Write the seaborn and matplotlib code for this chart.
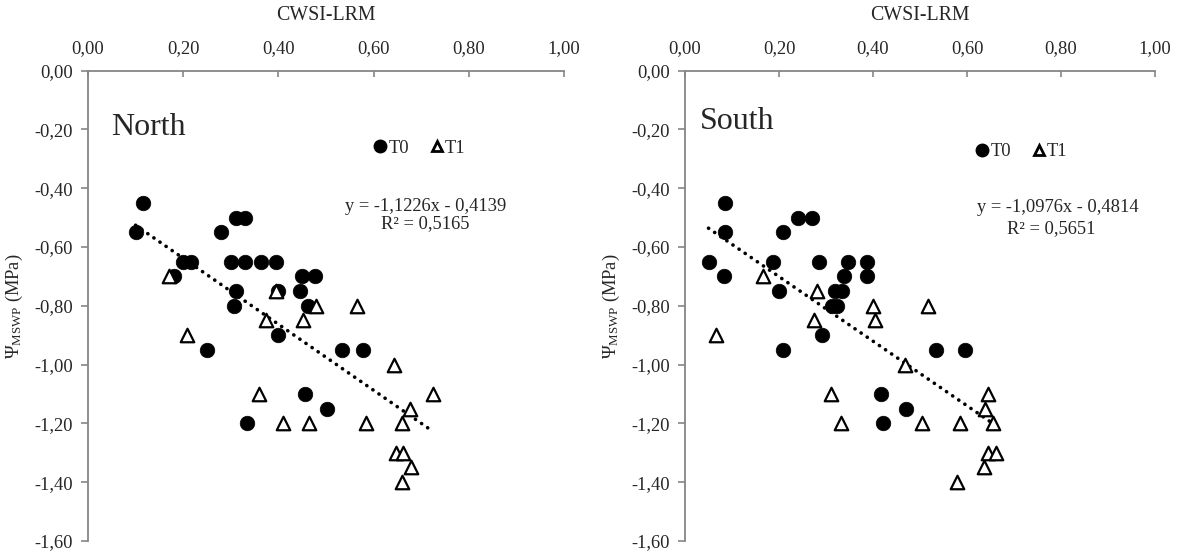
import numpy as np
import pandas as pd
import matplotlib
matplotlib.use("Agg")
import matplotlib.pyplot as plt
from matplotlib.ticker import FuncFormatter
from matplotlib.lines import Line2D
import seaborn as sns

# ---------------- data ----------------
north_t0_x = [0.100, 0.115, 0.180, 0.200, 0.216, 0.280, 0.300, 0.310, 0.330, 0.330,
              0.310, 0.307, 0.363, 0.396, 0.400, 0.400, 0.445, 0.450, 0.476, 0.462,
              0.250, 0.335, 0.455, 0.502, 0.534, 0.578]
north_t0_y = [-0.55, -0.45, -0.70, -0.65, -0.65, -0.55, -0.65, -0.50, -0.50, -0.65,
              -0.75, -0.80, -0.65, -0.65, -0.75, -0.90, -0.75, -0.70, -0.70, -0.80,
              -0.95, -1.20, -1.10, -1.15, -0.95, -0.95]
north_t1_x = [0.170, 0.208, 0.359, 0.410, 0.465, 0.373, 0.395, 0.452, 0.480, 0.565,
              0.642, 0.725, 0.676, 0.584, 0.660, 0.648, 0.662, 0.679, 0.660]
north_t1_y = [-0.70, -0.90, -1.10, -1.20, -1.20, -0.85, -0.75, -0.85, -0.80, -0.80,
              -1.00, -1.10, -1.15, -1.20, -1.20, -1.30, -1.30, -1.35, -1.40]

south_t0_x = [0.050, 0.085, 0.085, 0.084, 0.188, 0.199, 0.208, 0.208, 0.241, 0.271,
              0.285, 0.292, 0.312, 0.323, 0.319, 0.335, 0.338, 0.347, 0.388, 0.388,
              0.417, 0.422, 0.470, 0.533, 0.596]
south_t0_y = [-0.65, -0.45, -0.55, -0.70, -0.65, -0.75, -0.55, -0.95, -0.50, -0.50,
              -0.65, -0.90, -0.80, -0.80, -0.75, -0.75, -0.70, -0.65, -0.65, -0.70,
              -1.10, -1.20, -1.15, -0.95, -0.95]
south_t1_x = [0.065, 0.166, 0.274, 0.281, 0.310, 0.331, 0.401, 0.404, 0.468, 0.505,
              0.516, 0.585, 0.579, 0.644, 0.638, 0.656, 0.645, 0.662, 0.637]
south_t1_y = [-0.90, -0.70, -0.85, -0.75, -1.10, -1.20, -0.80, -0.85, -1.00, -1.20,
              -0.80, -1.20, -1.40, -1.10, -1.15, -1.20, -1.30, -1.30, -1.35]

north_slope, north_intercept, north_r2 = -1.1226, -0.4139, 0.5165
south_slope, south_intercept, south_r2 = -1.0976, -0.4814, 0.5651

x_ticks = [0.0, 0.2, 0.4, 0.6, 0.8, 1.0]
y_ticks = [0.0, -0.2, -0.4, -0.6, -0.8, -1.0, -1.2, -1.4, -1.6]

# ---------------- style ----------------
sns.set_style("white")
plt.rcParams['font.family'] = ['Liberation Serif', 'DejaVu Serif']
plt.rcParams['mathtext.fontset'] = 'custom'
plt.rcParams['mathtext.rm'] = 'Liberation Serif'
plt.rcParams['mathtext.it'] = 'Liberation Serif:italic'
plt.rcParams['mathtext.bf'] = 'Liberation Serif:bold'

GRAY = '#868686'
FS = 13.3


def fmt(v, pos=None):
    s = f"{v:.2f}".replace('.', ',')
    if s == '-0,00':
        s = '0,00'
    return s


def num(v, nd=4):
    return f"{abs(v):.{nd}f}".replace('.', ',')


fig = plt.figure(figsize=(11.79, 5.54), dpi=100)
ax_n = fig.add_axes([88 / 1179, 1 - 541 / 554, (564 - 88) / 1179, (541 - 70.5) / 554])
ax_s = fig.add_axes([685 / 1179, 1 - 541 / 554, (1155 - 685) / 1179, (541 - 70.5) / 554])

panels = [
    (ax_n, "North", north_t0_x, north_t0_y, north_t1_x, north_t1_y,
     north_slope, north_intercept, north_r2,
     (0.048, -0.194), (0.698, 0.835), (0.709, -0.462), (0.709, -0.522), -0.133),
    (ax_s, "South", south_t0_x, south_t0_y, south_t1_x, south_t1_y,
     south_slope, south_intercept, south_r2,
     (0.032, -0.172), (0.717, 0.827), (0.794, -0.465), (0.779, -0.537), -0.135),
]

for (ax, name, t0x, t0y, t1x, t1y, slope, icpt, r2,
     name_pos, leg_pos, eq_pos, r2_pos, ylab_x) in panels:
    df0 = pd.DataFrame({'x': t0x, 'y': t0y})
    df1 = pd.DataFrame({'x': t1x, 'y': t1y})
    # trend line from the stated regression equation over the data range
    allx = np.array(t0x + t1x)
    xl = np.array([allx.min(), allx.max()])
    dfl = pd.DataFrame({'x': xl, 'y': slope * xl + icpt})
    sns.lineplot(data=dfl, x='x', y='y', ax=ax, color='black', lw=2.6,
                 linestyle=(0, (0.05, 2.0)), dash_capstyle='round', zorder=1,
                 legend=False)
    sns.scatterplot(data=df0, x='x', y='y', ax=ax, marker='o', s=110,
                    color='black', edgecolor='black', linewidth=0.5, zorder=3)
    sns.scatterplot(data=df1, x='x', y='y', ax=ax, marker='^', s=95,
                    facecolor='white', edgecolor='black', linewidth=1.6, zorder=4)

    ax.set_xlim(0, 1.0)
    ax.set_ylim(-1.6, 0)
    ax.xaxis.tick_top()
    ax.xaxis.set_label_position('top')
    ax.set_xticks(x_ticks)
    ax.set_yticks(y_ticks)
    ax.xaxis.set_major_formatter(FuncFormatter(fmt))
    ax.yaxis.set_major_formatter(FuncFormatter(fmt))
    ax.tick_params(axis='x', direction='in', length=4, width=1.2, color=GRAY,
                   pad=10, labelsize=FS, top=True, bottom=False)
    ax.tick_params(axis='y', direction='out', length=5, width=1.2, color=GRAY,
                   pad=6, labelsize=FS, left=True)
    for sp in ['right', 'bottom']:
        ax.spines[sp].set_visible(False)
    for sp in ['left', 'top']:
        ax.spines[sp].set_color(GRAY)
        ax.spines[sp].set_linewidth(1.3)
    ax.set_xlabel('CWSI-LRM', fontsize=FS + 1, labelpad=14)
    ax.set_ylabel(r'$\mathrm{\Psi_{MSWP}}$ (MPa)', fontsize=FS)
    ax.yaxis.set_label_coords(ylab_x, 0.5)
    ax.grid(False)

    ax.text(name_pos[0], name_pos[1], name, fontsize=23, ha='left', va='center')
    ax.text(eq_pos[0], eq_pos[1], f"y = -{num(slope)}x - {num(icpt)}",
            fontsize=FS, ha='center', va='center')
    ax.text(r2_pos[0], r2_pos[1], f"R² = {num(r2)}", fontsize=FS,
            ha='center', va='center')

    handles = [Line2D([], [], marker='o', color='black', linestyle='None', markersize=9),
               Line2D([], [], marker='^', markerfacecolor='white', markeredgecolor='black',
                      markeredgewidth=2, linestyle='None', markersize=7.5)]
    ax.legend(handles, ['T0', 'T1'], loc='center', bbox_to_anchor=leg_pos, ncol=2,
              frameon=False, fontsize=FS, handlelength=0.6, handletextpad=0.15,
              columnspacing=1.2, borderpad=0)

fig.savefig('out.png', dpi=100)
